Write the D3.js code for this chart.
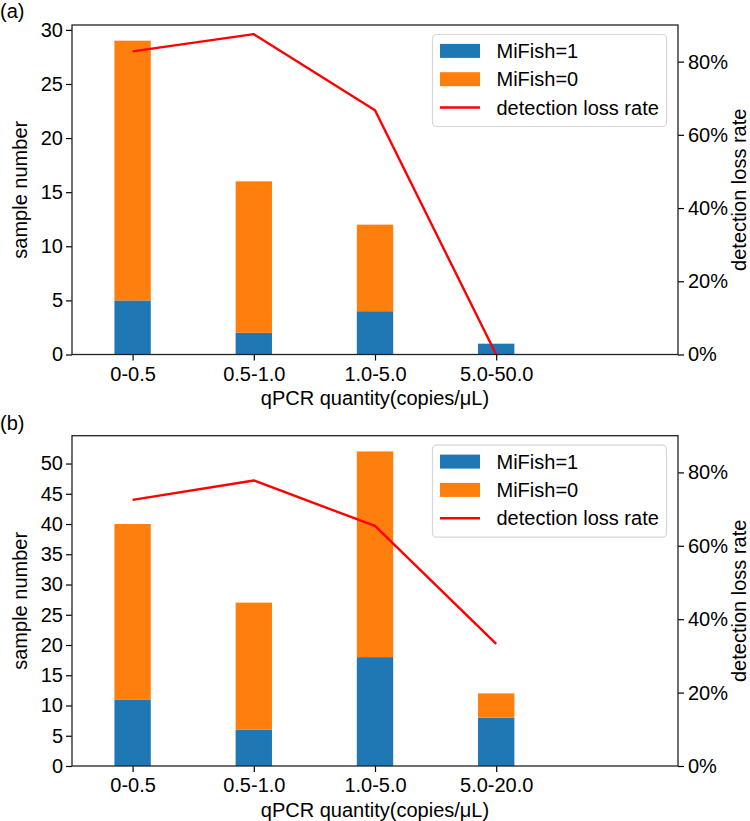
<!DOCTYPE html>
<html>
<head>
<meta charset="utf-8">
<script src="https://cdn.jsdelivr.net/npm/d3@7"></script>
<style>
  html, body { margin: 0; padding: 0; background: #fff; }
  svg text { font-family: "Liberation Sans", Arial, Helvetica, sans-serif; fill: #000; }
</style>
</head>
<body>
<svg id="chart" width="750" height="821"></svg>
<script>
// ---- data ----
const categoriesA = ["0-0.5", "0.5-1.0", "1.0-5.0", "5.0-50.0"];
const mifish1A = [5, 2, 4, 1];
const mifish0A = [24, 14, 8, 0];
const lossRateA = [0.828, 0.875, 0.667, 0.0];

const categoriesB = ["0-0.5", "0.5-1.0", "1.0-5.0", "5.0-20.0"];
const mifish1B = [11, 6, 18, 8];
const mifish0B = [29, 21, 34, 4];
const lossRateB = [0.725, 0.778, 0.654, 0.333];

const leftTicksA = [0, 5, 10, 15, 20, 25, 30];
const leftTicksB = [0, 5, 10, 15, 20, 25, 30, 35, 40, 45, 50];
const rightTicks = [0, 0.2, 0.4, 0.6, 0.8];
const legendLabels = ["MiFish=1", "MiFish=0", "detection loss rate"];

// ---- style ----
const C_BLUE = "#1f77b4", C_ORANGE = "#ff7f0e", C_RED = "#ff0000";
const FONT = 20;
const svg = d3.select("#chart");

function panel(cfg) {
  const { top, bottom, left, right, cats, m1, m0, loss, yMax, leftTicks, tag, tagY } = cfg;
  const g = svg.append("g");
  const x = d3.scaleLinear().domain([-0.5, 4.5]).range([left, right]);
  const y = d3.scaleLinear().domain([0, yMax]).range([bottom, top]);
  const y2 = d3.scaleLinear().domain([0, 0.9]).range([bottom, top]);
  const bw = x(0.3) - x(0);

  // bars: MiFish=1 at bottom, MiFish=0 stacked
  g.selectAll("rect.b1").data(m1).enter().append("rect")
    .attr("x", (d, i) => x(i) - bw / 2).attr("width", bw)
    .attr("y", d => y(d)).attr("height", d => y(0) - y(d))
    .attr("fill", C_BLUE);
  g.selectAll("rect.b0").data(m0).enter().append("rect")
    .attr("x", (d, i) => x(i) - bw / 2).attr("width", bw)
    .attr("y", (d, i) => y(d + m1[i])).attr("height", (d, i) => y(m1[i]) - y(d + m1[i]))
    .attr("fill", C_ORANGE);

  // line
  const line = d3.line().x((d, i) => x(i)).y(d => y2(d));
  g.append("path").datum(loss).attr("d", line)
    .attr("fill", "none").attr("stroke", C_RED).attr("stroke-width", 2.4)
    .attr("stroke-linejoin", "round");

  // axes
  const axL = d3.axisLeft(y).tickValues(leftTicks).tickSize(6).tickPadding(3);
  const axR = d3.axisRight(y2).tickValues(rightTicks).tickSize(6).tickPadding(4)
    .tickFormat(d3.format(".0%"));
  const axB = d3.axisBottom(x).tickValues(d3.range(cats.length)).tickSize(6).tickPadding(6)
    .tickFormat(i => cats[i]);

  function styleAxis(sel) {
    sel.select(".domain").remove();
    sel.selectAll(".tick line").attr("stroke", "#000").attr("stroke-width", 1.2);
    sel.selectAll(".tick text").attr("font-size", FONT)
      .attr("font-family", "'Liberation Sans', Arial, sans-serif").attr("fill", "#000");
  }
  g.append("g").attr("transform", `translate(${left},0)`).call(axL).call(styleAxis);
  g.append("g").attr("transform", `translate(${right},0)`).call(axR).call(styleAxis);
  g.append("g").attr("transform", `translate(0,${bottom})`).call(axB).call(styleAxis);

  // frame
  g.append("rect").attr("x", left).attr("y", top)
    .attr("width", right - left).attr("height", bottom - top)
    .attr("fill", "none").attr("stroke", "#222").attr("stroke-width", 1.3);

  // labels
  const midY = (top + bottom) / 2;
  g.append("text").attr("transform", `translate(27,${midY}) rotate(-90)`)
    .attr("text-anchor", "middle").attr("font-size", FONT).text("sample number");
  g.append("text").attr("transform", `translate(746,${midY}) rotate(-90)`)
    .attr("text-anchor", "middle").attr("font-size", FONT).text("detection loss rate");
  g.append("text").attr("x", (left + right) / 2).attr("y", bottom + 50.5)
    .attr("text-anchor", "middle").attr("font-size", FONT).text("qPCR quantity(copies/μL)");
  g.append("text").attr("x", 0).attr("y", tagY).attr("font-size", FONT).text(tag);

  // legend
  const lx = 432.5, ly = top + 9.5, lw = 234, lh = 92;
  const lg = g.append("g");
  lg.append("rect").attr("x", lx).attr("y", ly).attr("width", lw).attr("height", lh)
    .attr("rx", 4).attr("fill", "#fff").attr("fill-opacity", 0.8)
    .attr("stroke", "#d6d6d6").attr("stroke-width", 1.2);
  const rowY = i => ly + 16.4 + i * 28.3;
  lg.append("rect").attr("x", 440).attr("y", rowY(0) - 7).attr("width", 40).attr("height", 14).attr("fill", C_BLUE);
  lg.append("rect").attr("x", 440).attr("y", rowY(1) - 7).attr("width", 40).attr("height", 14).attr("fill", C_ORANGE);
  lg.append("line").attr("x1", 440).attr("x2", 480).attr("y1", rowY(2)).attr("y2", rowY(2))
    .attr("stroke", C_RED).attr("stroke-width", 2.4);
  legendLabels.forEach((t, i) => {
    lg.append("text").attr("x", 496.5).attr("y", rowY(i)).attr("dy", "0.35em")
      .attr("font-size", FONT).text(t);
  });
}

panel({ top: 25, bottom: 354.5, left: 72, right: 678, cats: categoriesA, m1: mifish1A, m0: mifish0A,
        loss: lossRateA, yMax: 30.45, leftTicks: leftTicksA, tag: "(a)", tagY: 17.5 });
panel({ top: 435.7, bottom: 766, left: 72, right: 678, cats: categoriesB, m1: mifish1B, m0: mifish0B,
        loss: lossRateB, yMax: 54.6, leftTicks: leftTicksB, tag: "(b)", tagY: 429.6 });
</script>
</body>
</html>
